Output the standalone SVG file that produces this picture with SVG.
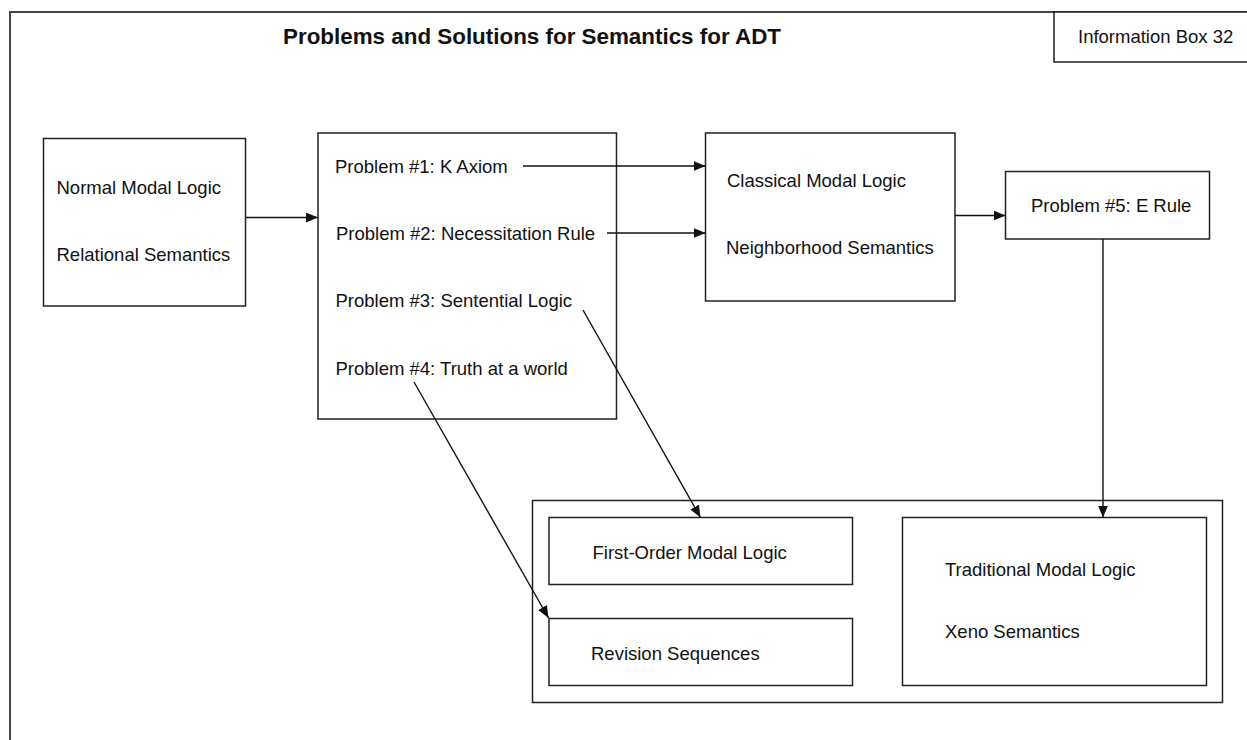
<svg xmlns="http://www.w3.org/2000/svg" width="1247" height="740" viewBox="0 0 1247 740">
  <style>
    .box { fill: #fff; stroke: #222; stroke-width: 1.5; }
    .frame { fill: none; stroke: #444; stroke-width: 2; }
    .lbl { font-family: "Liberation Sans", Arial, sans-serif; font-size: 18.5px; fill: #111; }
    .title { font-family: "Liberation Sans", Arial, sans-serif; font-size: 22.4px; font-weight: bold; fill: #111; }
    .edge { fill: none; stroke: #111; stroke-width: 1.4; marker-end: url(#arrow); }
  </style>
  <defs>
    <marker id="arrow" markerUnits="userSpaceOnUse" markerWidth="13" markerHeight="10" refX="12" refY="5" orient="auto">
      <path d="M0,0 L12,5 L0,10 z" fill="#111"/>
    </marker>
  </defs>

  <rect width="1247" height="740" fill="#fff"/>

  <!-- page frame and heading -->
  <g id="frame">
    <path class="frame" d="M10,745 V12 H1250"/>
    <text class="title" x="283" y="43.5">Problems and Solutions for Semantics for ADT</text>
  </g>

  <g id="info-box">
    <rect class="box" x="1054" y="12" width="200" height="50"/>
    <text class="lbl" x="1078" y="43">Information Box 32</text>
  </g>

  <g id="normal-modal">
    <rect class="box" x="43.5" y="138.5" width="202" height="167.5"/>
    <text class="lbl" x="56.5" y="193.5">Normal Modal Logic</text>
    <text class="lbl" x="56.5" y="260.5">Relational Semantics</text>
  </g>

  <g id="problems">
    <rect class="box" x="318" y="133" width="298.5" height="286"/>
    <text class="lbl" x="335" y="172.5">Problem #1: K Axiom</text>
    <text class="lbl" x="336" y="239.5">Problem #2: Necessitation Rule</text>
    <text class="lbl" x="335.5" y="307">Problem #3: Sentential Logic</text>
    <text class="lbl" x="335.5" y="374.5">Problem #4: Truth at a world</text>
  </g>

  <g id="classical-modal">
    <rect class="box" x="705.5" y="133" width="249.5" height="168"/>
    <text class="lbl" x="727" y="186.5">Classical Modal Logic</text>
    <text class="lbl" x="726" y="253.5">Neighborhood Semantics</text>
  </g>

  <g id="problem-5">
    <rect class="box" x="1005.5" y="171.5" width="204" height="67.5"/>
    <text class="lbl" x="1031" y="211.5">Problem #5: E Rule</text>
  </g>

  <g id="solutions">
    <rect class="box" x="532.5" y="500.5" width="690" height="202"/>
    <g id="first-order">
      <rect class="box" x="549" y="517.5" width="303.5" height="67"/>
      <text class="lbl" x="592.5" y="559">First-Order Modal Logic</text>
    </g>
    <g id="revision">
      <rect class="box" x="549" y="618.5" width="303.5" height="67"/>
      <text class="lbl" x="591" y="660">Revision Sequences</text>
    </g>
    <g id="traditional">
      <rect class="box" x="902.5" y="517.5" width="304" height="168"/>
      <text class="lbl" x="945" y="575.5">Traditional Modal Logic</text>
      <text class="lbl" x="945" y="638">Xeno Semantics</text>
    </g>
  </g>

  <!-- connectors -->
  <g id="connectors">
    <line class="edge" x1="246" y1="217.5" x2="318" y2="217.5"/>
    <line class="edge" x1="523" y1="166" x2="705.5" y2="166"/>
    <line class="edge" x1="607" y1="233" x2="705.5" y2="233"/>
    <line class="edge" x1="955" y1="215.5" x2="1005.5" y2="215.5"/>
    <line class="edge" x1="1103" y1="239" x2="1103" y2="517.5"/>
    <line class="edge" x1="583" y1="310" x2="700.5" y2="517.5"/>
    <line class="edge" x1="414" y1="382" x2="548.5" y2="618"/>
  </g>
</svg>
